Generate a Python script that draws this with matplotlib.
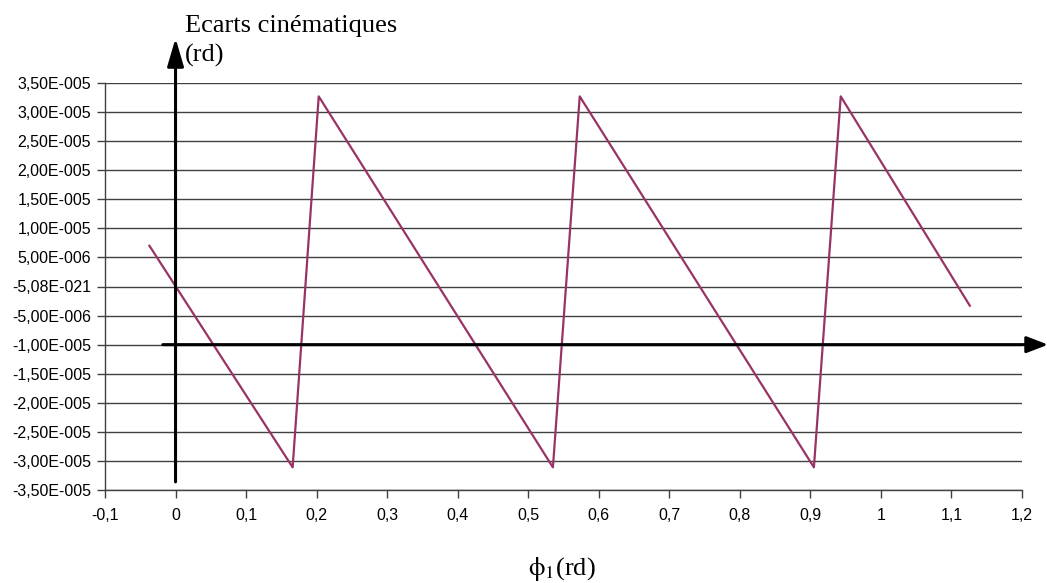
import matplotlib
matplotlib.use("Agg")
import matplotlib.pyplot as plt

# courbe des ecarts
phi1 = [-0.037, 0.166, 0.203, 0.535, 0.573, 0.905, 0.943, 1.126]
ecarts = [7.0e-6, -3.11e-5, 3.27e-5, -3.11e-5, 3.27e-5, -3.11e-5, 3.27e-5, -3.3e-6]

y_ticks = [3.5e-5, 3.0e-5, 2.5e-5, 2.0e-5, 1.5e-5, 1.0e-5, 5.0e-6, 0.0,
           -5.0e-6, -1.0e-5, -1.5e-5, -2.0e-5, -2.5e-5, -3.0e-5, -3.5e-5]
y_labels = ["3,50E-005", "3,00E-005", "2,50E-005", "2,00E-005", "1,50E-005",
            "1,00E-005", "5,00E-006", "-5,08E-021", "-5,00E-006", "-1,00E-005",
            "-1,50E-005", "-2,00E-005", "-2,50E-005", "-3,00E-005", "-3,50E-005"]
x_ticks = [-0.1, 0, 0.1, 0.2, 0.3, 0.4, 0.5, 0.6, 0.7, 0.8, 0.9, 1.0, 1.1, 1.2]
x_labels = ["-0,1", "0", "0,1", "0,2", "0,3", "0,4", "0,5", "0,6", "0,7",
            "0,8", "0,9", "1", "1,1", "1,2"]

plt.rcParams["font.family"] = ["Liberation Sans", "DejaVu Sans"]
plt.rcParams["mathtext.fontset"] = "stix"

fig = plt.figure(figsize=(10.47, 5.83), dpi=100)
ax = fig.add_axes([105 / 1047, 1 - 490 / 583, (1022 - 105) / 1047, (490 - 83) / 583])

ax.set_xlim(-0.1, 1.2)
ax.set_ylim(-3.5e-5, 3.5e-5)

# grille horizontale
for v in y_ticks:
    ax.axhline(v, color="#404040", linewidth=1.0, zorder=1)

ax.plot(phi1, ecarts, color="#993366", linewidth=1.6, zorder=3)

ax.set_yticks(y_ticks)
ax.set_yticklabels(y_labels)
ax.set_xticks(x_ticks)
ax.set_xticklabels(x_labels)
ax.tick_params(axis="both", labelsize=11.5, length=6, width=1, color="#404040")
ax.tick_params(axis="y", pad=4)
ax.tick_params(axis="x", pad=7)

for s in ["top", "right"]:
    ax.spines[s].set_visible(False)
for s in ["left", "bottom"]:
    ax.spines[s].set_color("#404040")
    ax.spines[s].set_linewidth(1.0)

# fleches des axes
ax.annotate("", xy=(0, 4.27e-5), xytext=(0, -3.36e-5),
            arrowprops=dict(arrowstyle="-|>,head_length=0.85,head_width=0.25",
                            mutation_scale=20, color="black", lw=2.2,
                            shrinkA=0, shrinkB=0),
            annotation_clip=False, zorder=4)
ax.annotate("", xy=(1.237, -1.0e-5), xytext=(-0.018, -1.0e-5),
            arrowprops=dict(arrowstyle="-|>,head_length=0.65,head_width=0.25",
                            mutation_scale=20, color="black", lw=2.2,
                            shrinkA=0, shrinkB=0),
            annotation_clip=False, zorder=4)

fig.text(185 / 1047, 1 - 32 / 583, "Ecarts cinématiques", family="Liberation Serif",
         fontsize=19, ha="left", va="baseline")
fig.text(185 / 1047, 1 - 62 / 583, "(rd)", family="Liberation Serif",
         fontsize=19, ha="left", va="baseline")
fig.text(562 / 1047, 1 - 575 / 583, r"$\mathrm{\phi}_{1}$(rd)", family="Liberation Serif",
         fontsize=19, ha="center", va="baseline")

fig.savefig("out.png", dpi=100)
